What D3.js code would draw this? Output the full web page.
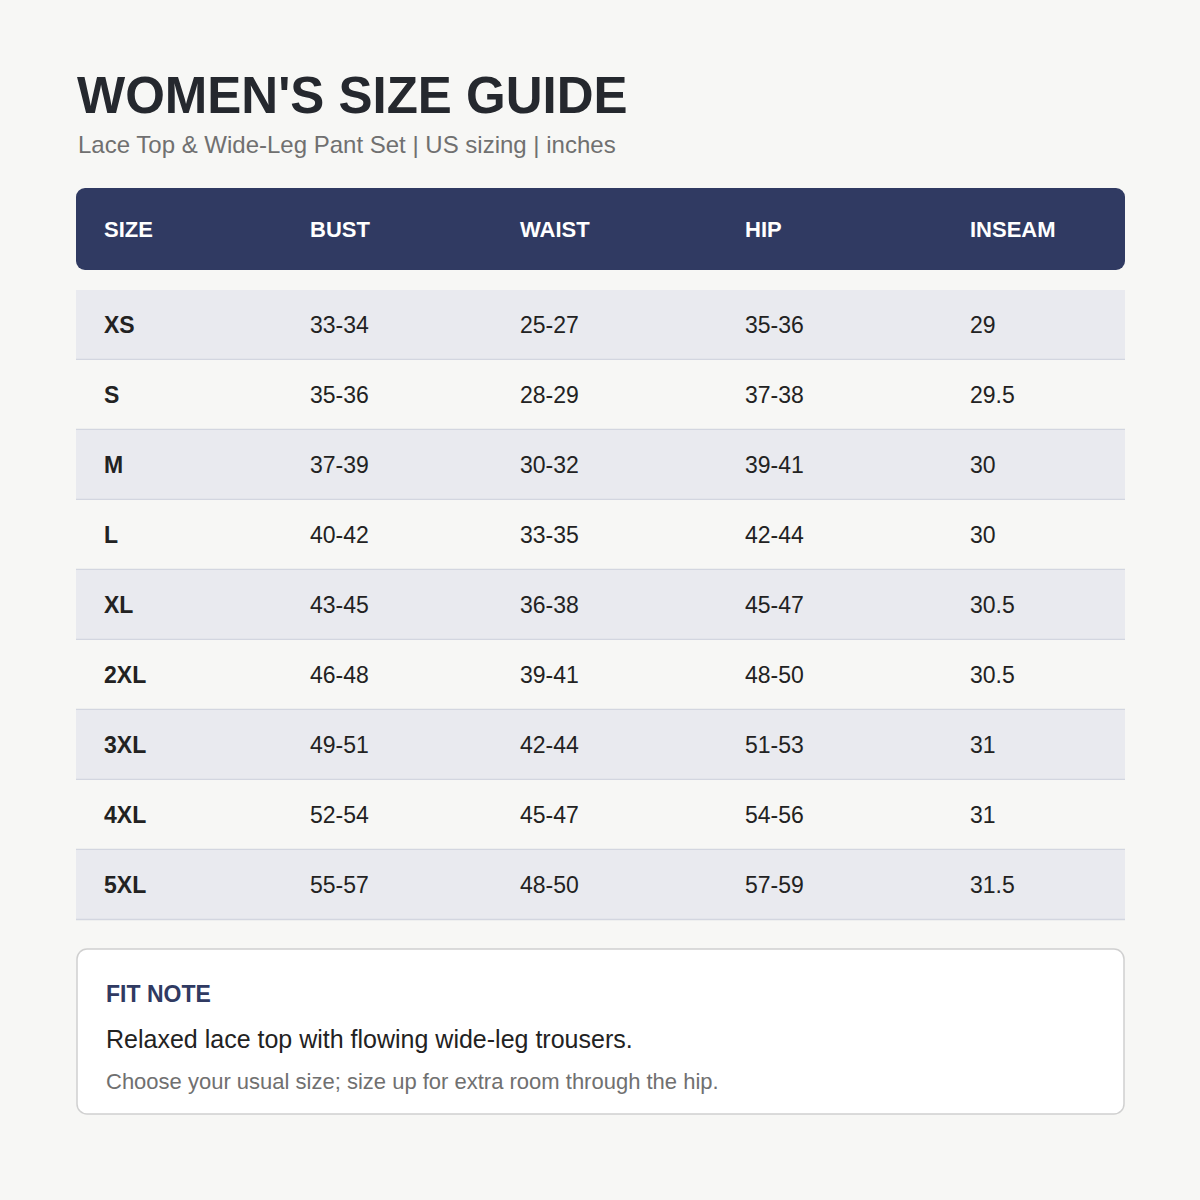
<!DOCTYPE html>
<html><head><meta charset="utf-8">
<script src="https://cdn.jsdelivr.net/npm/d3@7"></script>
<style>body{margin:0;background:#f7f7f5}svg{display:block;font-family:"Liberation Sans",Arial,sans-serif}</style>
</head><body>
<svg id="c" width="1200" height="1200"></svg>
<script>
const columns = ["SIZE","BUST","WAIST","HIP","INSEAM"];
const sizes = ["XS","S","M","L","XL","2XL","3XL","4XL","5XL"];
const bust = ["33-34","35-36","37-39","40-42","43-45","46-48","49-51","52-54","55-57"];
const waist = ["25-27","28-29","30-32","33-35","36-38","39-41","42-44","45-47","48-50"];
const hip = ["35-36","37-38","39-41","42-44","45-47","48-50","51-53","54-56","57-59"];
const inseam = ["29","29.5","30","30","30.5","30.5","31","31","31.5"];
const colX = [104,310,520,745,970];

const svg = d3.select("#c");
svg.append("rect").attr("width",1200).attr("height",1200).attr("fill","#f7f7f5");
svg.append("text").attr("x",77).attr("y",113).attr("font-size",51).attr("font-weight","bold").attr("fill","#25282e").text("WOMEN'S SIZE GUIDE");
svg.append("text").attr("x",78).attr("y",153).attr("font-size",24).attr("fill","#707070").text("Lace Top & Wide-Leg Pant Set | US sizing | inches");

svg.append("rect").attr("x",76).attr("y",188).attr("width",1049).attr("height",82).attr("rx",9).attr("fill","#303a62");
svg.selectAll(".h").data(columns).join("text").attr("x",(d,i)=>colX[i]).attr("y",237)
  .attr("font-size",22).attr("font-weight","bold").attr("fill","#fff").text(d=>d);

const y = d3.scaleBand().domain(sizes).range([290,920]);
const rows = sizes.map((s,i)=>[s,bust[i],waist[i],hip[i],inseam[i]]);
const g = svg.selectAll(".r").data(rows).join("g").attr("transform",d=>`translate(0,${y(d[0])})`);
g.append("rect").attr("x",76).attr("width",1049).attr("height",y.bandwidth()).attr("fill",(d,i)=>i%2===0?"#e9eaef":"#f7f7f5");
g.append("line").attr("x1",76).attr("x2",1125).attr("y1",y.bandwidth()-0.5).attr("y2",y.bandwidth()-0.5).attr("stroke","#d3d6e0").attr("stroke-width",1.5);
g.selectAll("text").data(d=>d).join("text").attr("x",(d,i)=>colX[i]).attr("y",43)
  .attr("font-size",23).attr("font-weight",(d,i)=>i===0?"bold":"normal").attr("fill","#222").text(d=>d);

svg.append("rect").attr("x",77).attr("y",949).attr("width",1047).attr("height",165).attr("rx",10).attr("fill","#fff").attr("stroke","#d0d0d0").attr("stroke-width",1.5);
svg.append("text").attr("x",106).attr("y",1002).attr("font-size",23).attr("font-weight","bold").attr("fill","#303a62").text("FIT NOTE");
svg.append("text").attr("x",106).attr("y",1048).attr("font-size",25).attr("fill","#222").text("Relaxed lace top with flowing wide-leg trousers.");
svg.append("text").attr("x",106).attr("y",1089).attr("font-size",22).attr("fill","#707070").text("Choose your usual size; size up for extra room through the hip.");
</script>
</body></html>
